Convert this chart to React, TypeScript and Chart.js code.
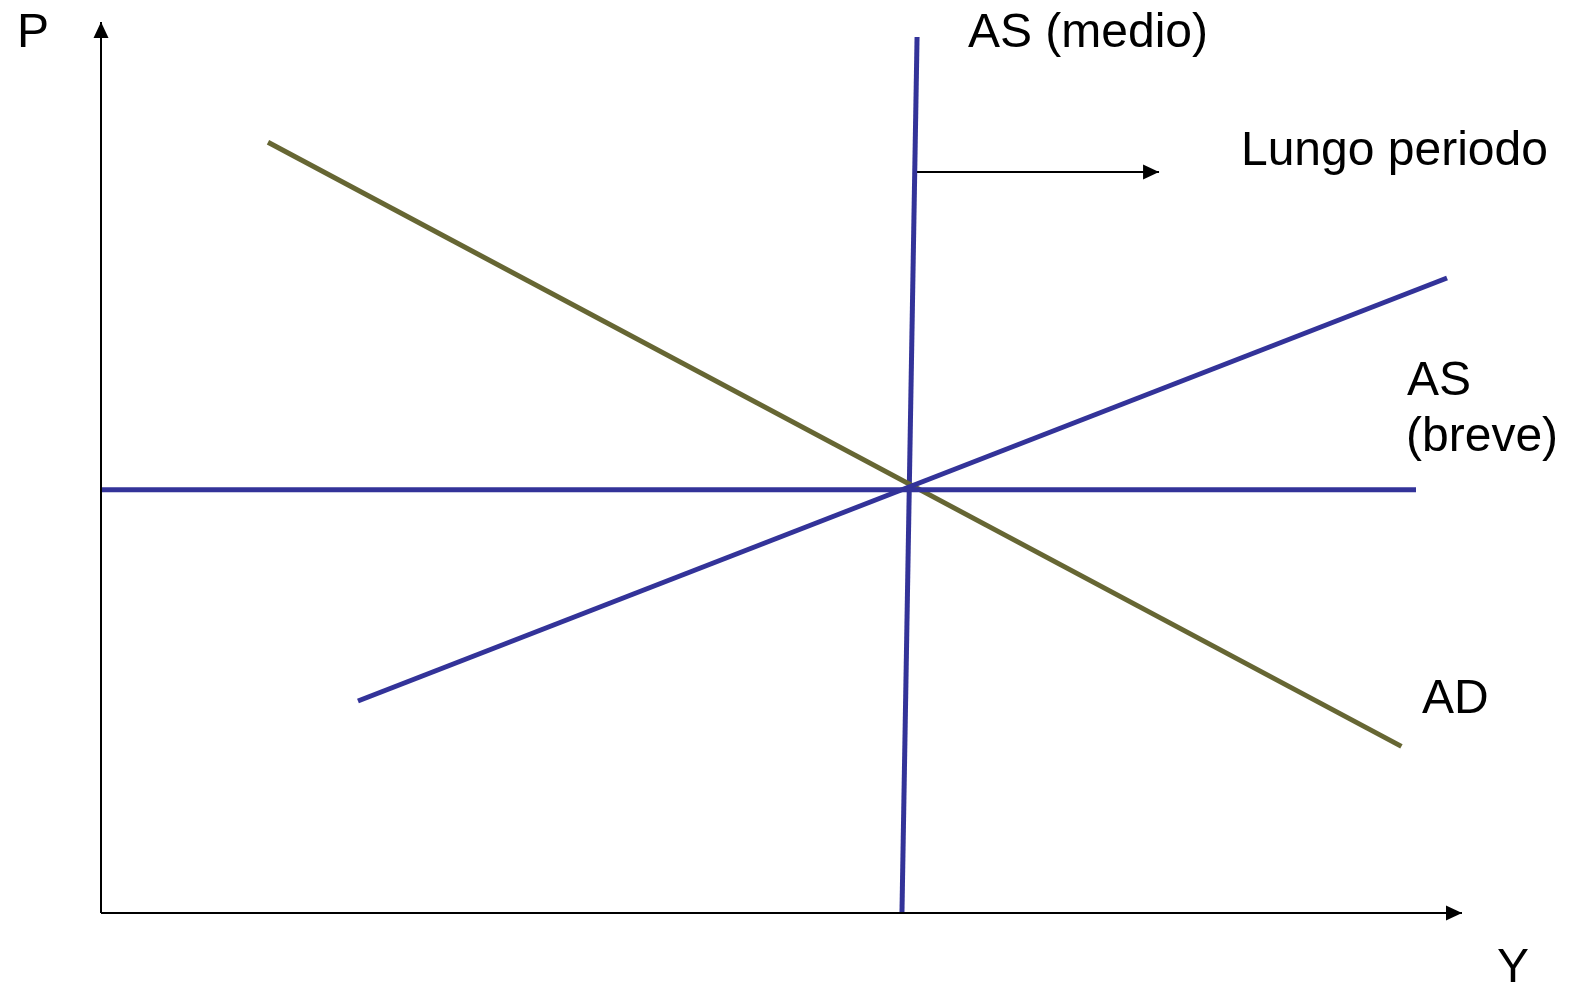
import React, { useEffect, useRef } from "react";
import { Chart, registerables } from "chart.js";

Chart.register(...registerables);

// Data units: origin of the axes is (0,0); axes run to 100.
const adCurve = [
  { x: 12.27, y: 86.5 },
  { x: 95.55, y: 18.7 },
];
const asShortSloped = [
  { x: 18.88, y: 23.79 },
  { x: 98.9, y: 71.27 },
];
const asShortFlat = [
  { x: 0, y: 47.5 },
  { x: 96.62, y: 47.5 },
];
const asMedium = [
  { x: 59.96, y: 98.32 },
  { x: 58.85, y: 0 },
];
const longRunArrow = [
  { x: 59.96, y: 83.16 },
  { x: 77.74, y: 83.16 },
];
const yAxisLine = [
  { x: 0, y: 0 },
  { x: 0, y: 100 },
];
const xAxisLine = [
  { x: 0, y: 0 },
  { x: 100, y: 0 },
];

const labelTexts = ["P", "AS (medio)", "Lungo periodo", "AS", "(breve)", "AD", "Y"];
const labelX = [-6.17, 63.7, 83.76, 95.96, 95.89, 97.06, 102.57];
const labelY = [97.2, 97.2, 83.95, 58.14, 51.85, 22.45, -7.74];

const BLUE = "#333399";
const OLIVE = "#666633";

const arrowPlugin = {
  id: "arrowsAndLabels",
  afterDatasetsDraw(chart: any) {
    const ctx = chart.ctx;
    const xs = chart.scales.x;
    const ys = chart.scales.y;
    ctx.save();
    chart.data.datasets.forEach((ds: any) => {
      if (!ds.arrow) return;
      const d = ds.data;
      const a = d[d.length - 2];
      const b = d[d.length - 1];
      const x1 = xs.getPixelForValue(a.x);
      const y1 = ys.getPixelForValue(a.y);
      const x2 = xs.getPixelForValue(b.x);
      const y2 = ys.getPixelForValue(b.y);
      const ang = Math.atan2(y2 - y1, x2 - x1);
      const len = 16;
      const hw = 7.5;
      ctx.fillStyle = ds.borderColor;
      ctx.beginPath();
      ctx.moveTo(x2, y2);
      ctx.lineTo(
        x2 - len * Math.cos(ang) - hw * Math.sin(ang),
        y2 - len * Math.sin(ang) + hw * Math.cos(ang)
      );
      ctx.lineTo(
        x2 - len * Math.cos(ang) + hw * Math.sin(ang),
        y2 - len * Math.sin(ang) - hw * Math.cos(ang)
      );
      ctx.closePath();
      ctx.fill();
    });
    ctx.fillStyle = "#000000";
    ctx.font = '48px "Liberation Sans", Arial, sans-serif';
    ctx.textAlign = "left";
    ctx.textBaseline = "alphabetic";
    labelTexts.forEach((t, i) => {
      ctx.fillText(t, xs.getPixelForValue(labelX[i]), ys.getPixelForValue(labelY[i]));
    });
    ctx.restore();
  },
};

export default function App() {
  const ref = useRef<HTMLCanvasElement | null>(null);
  useEffect(() => {
    if (!ref.current) return;
    const line = (data: any[], color: string, width: number, arrow = false) => ({
      data,
      borderColor: color,
      backgroundColor: color,
      borderWidth: width,
      showLine: true,
      pointRadius: 0,
      pointHoverRadius: 0,
      clip: false,
      arrow,
    });
    const chart = new Chart(ref.current, {
      type: "scatter",
      data: {
        datasets: [
          line(yAxisLine, "#000000", 2, true),
          line(xAxisLine, "#000000", 2, true),
          line(longRunArrow, "#000000", 2, true),
          line(asShortFlat, BLUE, 5),
          line(asShortSloped, BLUE, 5),
          line(adCurve, OLIVE, 5),
          line(asMedium, BLUE, 5),
        ] as any,
      },
      options: {
        responsive: false,
        animation: false,
        events: [],
        layout: { padding: { left: 101, top: 22, right: 107, bottom: 74 } },
        plugins: { legend: { display: false }, tooltip: { enabled: false } },
        scales: {
          x: { type: "linear", min: 0, max: 100, display: false },
          y: { type: "linear", min: 0, max: 100, display: false },
        },
      },
      plugins: [arrowPlugin],
    });
    return () => chart.destroy();
  }, []);
  return (
    <div style={{ position: "absolute", left: 0, top: 0, width: 1569, height: 987, background: "#fff" }}>
      <canvas ref={ref} width={1569} height={987} style={{ display: "block" }} />
    </div>
  );
}
